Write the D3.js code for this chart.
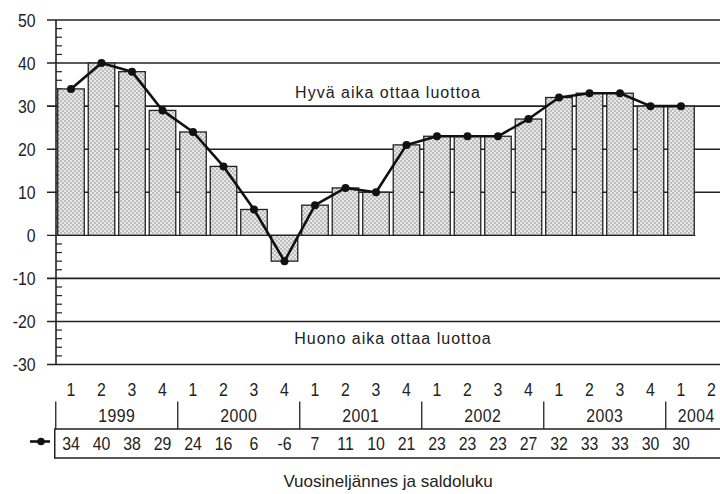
<!DOCTYPE html>
<html>
<head>
<meta charset="utf-8">
<script src="https://cdn.jsdelivr.net/npm/d3@7"></script>
<style>
  html, body { margin: 0; padding: 0; background: #fff; }
  svg text { font-family: "Liberation Sans", Arial, sans-serif; fill: #222; }
</style>
</head>
<body>
<svg id="chart" width="720" height="494"></svg>
<script>
// Quarterly balance figures ("saldoluku"), 1999 Q1 – 2004 Q1
const quarters = ["1","2","3","4","1","2","3","4","1","2","3","4","1","2","3","4","1","2","3","4","1","2"];
const years = ["1999","2000","2001","2002","2003","2004"];
const yearQuarters = [4, 4, 4, 4, 4, 2];
const saldo = [34, 40, 38, 29, 24, 16, 6, -6, 7, 11, 10, 21, 23, 23, 23, 27, 32, 33, 33, 30, 30];
const yTicks = [50, 40, 30, 20, 10, 0, -10, -20, -30];
const goodLabel = "Hyvä aika ottaa luottoa";
const badLabel = "Huono aika ottaa luottoa";
const xTitle = "Vuosineljännes ja saldoluku";

const W = 720, H = 494;
const NARROW = 0.88;           // horizontal squeeze for the condensed figures
const svg = d3.select("#chart");

const idx = quarters.map((_, i) => i);
const x = d3.scaleBand().domain(idx).range([55.75, 55.75 + 30.5 * quarters.length])
  .paddingInner(0.13).paddingOuter(0.065);
const y = d3.scaleLinear().domain([-30, 50]).range([364.5, 20]);
const axisX = 56;
const ink = "#222";

// narrow text placed at (px, py)
function narrowText(g, px, py, str, size) {
  return g.append("text")
    .attr("transform", `translate(${px},${py}) scale(${NARROW},1)`)
    .attr("text-anchor", "middle").attr("font-size", size).text(str);
}

// stippled grey fill for the bars
const defs = svg.append("defs");
const pat = defs.append("pattern").attr("id", "stipple")
  .attr("patternUnits", "userSpaceOnUse").attr("width", 4).attr("height", 4);
pat.append("rect").attr("width", 4).attr("height", 4).attr("fill", "#e8e8e8");
pat.append("rect").attr("width", 2).attr("height", 2).attr("fill", "#bcbcbc");
pat.append("rect").attr("x", 2).attr("y", 2).attr("width", 2).attr("height", 2).attr("fill", "#bcbcbc");

// horizontal gridlines (zero line stops after the last bar)
const lastBarEnd = x(saldo.length - 1) + x.bandwidth() + 1;
svg.append("g").selectAll("line").data(yTicks).join("line")
  .attr("x1", axisX - 9)
  .attr("x2", d => d === 0 ? lastBarEnd : W)
  .attr("y1", d => y(d)).attr("y2", d => y(d))
  .attr("stroke", ink).attr("stroke-width", d => d === 0 ? 1.3 : 1.6);

// y axis labels (condensed) and minor ticks
const yAxis = d3.axisLeft(y).tickValues(yTicks).tickSize(0)
  .tickPadding(20.5 / NARROW).tickFormat(d => String(d));
const gy = svg.append("g").attr("transform", `translate(${axisX},0)`).call(yAxis);
gy.select(".domain").remove();
gy.selectAll("text").attr("font-size", 18).attr("fill", ink).attr("dy", "0.36em")
  .attr("transform", `scale(${NARROW},1)`);

const minor = d3.range(-30, 51, 2).filter(v => v % 10 !== 0);
svg.append("g").selectAll("line").data(minor).join("line")
  .attr("x1", axisX).attr("x2", axisX + 6)
  .attr("y1", d => y(d)).attr("y2", d => y(d))
  .attr("stroke", ink).attr("stroke-width", 1.2);

svg.append("line").attr("x1", axisX).attr("x2", axisX)
  .attr("y1", y(50)).attr("y2", y(-30)).attr("stroke", ink).attr("stroke-width", 1.6);

// bars
svg.append("g").selectAll("rect").data(saldo).join("rect")
  .attr("x", (d, i) => x(i))
  .attr("width", x.bandwidth())
  .attr("y", d => y(Math.max(0, d)))
  .attr("height", d => Math.abs(y(d) - y(0)))
  .attr("fill", "url(#stipple)")
  .attr("stroke", ink).attr("stroke-width", 1.3);

// line with markers
const cx = i => x(i) + x.bandwidth() / 2;
svg.append("path").datum(saldo)
  .attr("d", d3.line().x((d, i) => cx(i)).y(d => y(d)))
  .attr("fill", "none").attr("stroke", "#111").attr("stroke-width", 2.6)
  .attr("stroke-linejoin", "round");
svg.append("g").selectAll("circle").data(saldo).join("circle")
  .attr("cx", (d, i) => cx(i)).attr("cy", d => y(d)).attr("r", 4)
  .attr("fill", "#111");

// annotations inside the plot
svg.append("text").attr("x", 388).attr("y", 98).attr("text-anchor", "middle")
  .attr("font-size", 16).attr("letter-spacing", 1).text(goodLabel);
svg.append("text").attr("x", 393).attr("y", 344).attr("text-anchor", "middle")
  .attr("font-size", 16).attr("letter-spacing", 1).text(badLabel);

// quarter row
const gq = svg.append("g");
quarters.forEach((q, i) => narrowText(gq, cx(i), 396, q, 18));

// year row with separators
const yearStart = d3.cumsum([0, ...yearQuarters]);
const sepTop = 401.5, tableTop = 429, tableBottom = 458;
const bandStart = i => x.range()[0] + i * x.step();
svg.append("g").selectAll("line").data(years).join("line")
  .attr("x1", (d, i) => bandStart(yearStart[i])).attr("x2", (d, i) => bandStart(yearStart[i]))
  .attr("y1", sepTop).attr("y2", tableTop)
  .attr("stroke", ink).attr("stroke-width", 1.3);
const gyr = svg.append("g");
years.forEach((yr, i) => {
  const mid = (bandStart(yearStart[i]) + bandStart(yearStart[i + 1])) / 2;
  narrowText(gyr, mid, 421.5, yr, 18).attr("letter-spacing", 0.5);
});

// data table row
const tableLeft = bandStart(0) - 1;
svg.append("path")
  .attr("d", `M${W + 2},${tableTop}H${tableLeft}V${tableBottom}H${W + 2}`)
  .attr("fill", "none").attr("stroke", ink).attr("stroke-width", 1.5);
const gv = svg.append("g");
saldo.forEach((v, i) => narrowText(gv, cx(i), 450, String(v), 18));

// series key in front of the table
const keyY = (tableTop + tableBottom) / 2 - 2;
svg.append("line").attr("x1", 30).attr("x2", 50).attr("y1", keyY).attr("y2", keyY)
  .attr("stroke", "#111").attr("stroke-width", 2.6);
svg.append("circle").attr("cx", 41).attr("cy", keyY).attr("r", 3.8).attr("fill", "#111");

// axis title
svg.append("text").attr("x", 388).attr("y", 487).attr("text-anchor", "middle")
  .attr("font-size", 17).text(xTitle);
</script>
</body>
</html>
